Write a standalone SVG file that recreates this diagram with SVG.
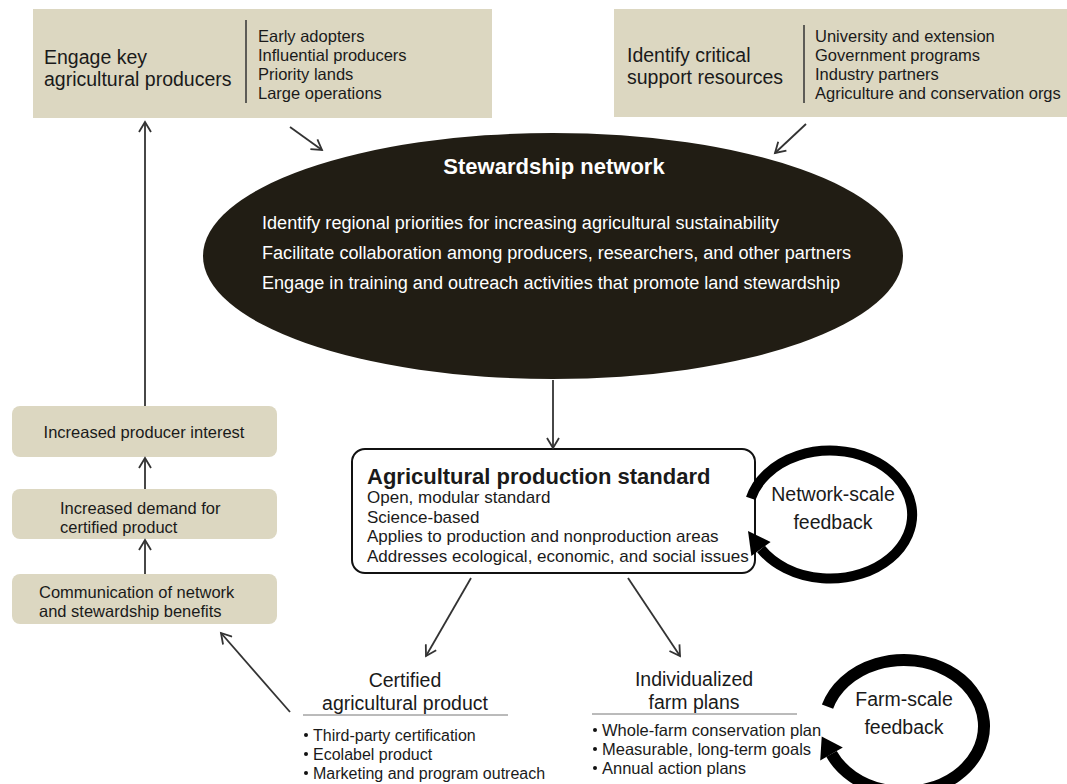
<svg xmlns="http://www.w3.org/2000/svg" width="1067" height="784" viewBox="0 0 1067 784">
<style>
text{font-family:"Liberation Sans",Arial,sans-serif;fill:#1a1a1a}
.box{fill:#dcd7c1}
.div{stroke:#333;stroke-width:1.5}
.lbl{font-size:19.5px}
.lst{font-size:16.5px}
.std{font-size:17px}
.side{font-size:16.5px}
.bul{font-size:16px}
.bul2{font-size:16.5px}
.hd{font-size:19.5px}
.w{fill:#fff}
.conn{stroke:#333;stroke-width:1.8;fill:none}
.ring{fill:none;stroke:#000}
.c{text-anchor:middle}
</style>
<defs>
<marker id="ah" markerUnits="userSpaceOnUse" markerWidth="14" markerHeight="14" refX="11" refY="7" orient="auto">
<path d="M1,1 L11,7 L1,13" fill="none" stroke="#333" stroke-width="1.8"/>
</marker>
</defs>
<rect width="1067" height="784" fill="#fff"/>

<g id="engage">
<rect class="box" x="33" y="9" width="459" height="109"/>
<line class="div" x1="246" y1="20" x2="246" y2="103"/>
<text class="lbl" x="44" y="64">Engage key</text>
<text class="lbl" x="44" y="86">agricultural producers</text>
<text class="lst" x="258" y="42">Early adopters</text>
<text class="lst" x="258" y="61">Influential producers</text>
<text class="lst" x="258" y="80">Priority lands</text>
<text class="lst" x="258" y="99">Large operations</text>
</g>

<g id="support">
<rect class="box" x="614" y="9" width="453" height="108"/>
<line class="div" x1="804" y1="25" x2="804" y2="103"/>
<text class="lbl" x="627" y="62">Identify critical</text>
<text class="lbl" x="627" y="84">support resources</text>
<text class="lst" x="815" y="42">University and extension</text>
<text class="lst" x="815" y="61">Government programs</text>
<text class="lst" x="815" y="80">Industry partners</text>
<text class="lst" x="815" y="99">Agriculture and conservation orgs</text>
</g>

<g id="network">
<ellipse cx="553" cy="256" rx="350" ry="123" fill="#211d14"/>
<text class="w c" x="554" y="174" font-size="22" font-weight="bold">Stewardship network</text>
<text class="w" x="262" y="229" font-size="18" textLength="517" lengthAdjust="spacingAndGlyphs">Identify regional priorities for increasing agricultural sustainability</text>
<text class="w" x="262" y="259" font-size="18" textLength="589" lengthAdjust="spacingAndGlyphs">Facilitate collaboration among producers, researchers, and other partners</text>
<text class="w" x="262" y="289" font-size="18" textLength="578" lengthAdjust="spacingAndGlyphs">Engage in training and outreach activities that promote land stewardship</text>
</g>

<g id="standard">
<rect x="352" y="449" width="403" height="124" rx="13" fill="#fff" stroke="#111" stroke-width="2"/>
<text x="367" y="484" font-size="22" font-weight="bold">Agricultural production standard</text>
<text class="std" x="367" y="503">Open, modular standard</text>
<text class="std" x="367" y="523">Science-based</text>
<text class="std" x="367" y="542">Applies to production and nonproduction areas</text>
<text class="std" x="367" y="562">Addresses ecological, economic, and social issues</text>
</g>

<g id="network-feedback">
<path class="ring" stroke-width="10" d="M750.8,498.4 A82,64 0 1 1 761.0,549.0"/>
<polygon points="748,531 770.6,541.9 751.4,556.1" fill="#000"/>
<text class="c hd" x="833" y="501">Network-scale</text>
<text class="c hd" x="833" y="529">feedback</text>
</g>

<g id="interest">
<rect class="box" x="12" y="406" width="265" height="51" rx="8"/>
<text class="side" x="144" y="438" text-anchor="middle">Increased producer interest</text>
</g>
<g id="demand">
<rect class="box" x="12" y="489" width="265" height="50" rx="8"/>
<text class="side" x="60" y="514">Increased demand for</text>
<text class="side" x="60" y="533">certified product</text>
</g>
<g id="communication">
<rect class="box" x="12" y="574" width="265" height="50" rx="8"/>
<text class="side" x="39" y="598">Communication of network</text>
<text class="side" x="39" y="617">and stewardship benefits</text>
</g>

<g id="certified">
<text class="c hd" x="405" y="687">Certified</text>
<text class="c hd" x="405" y="710">agricultural product</text>
<line x1="303" y1="715" x2="508" y2="715" stroke="#777" stroke-width="1"/>
<circle cx="306" cy="735" r="2" fill="#111"/>
<circle cx="306" cy="754" r="2" fill="#111"/>
<circle cx="306" cy="773" r="2" fill="#111"/>
<text class="bul" x="313" y="741">Third-party certification</text>
<text class="bul" x="313" y="760">Ecolabel product</text>
<text class="bul" x="313" y="779">Marketing and program outreach</text>
</g>

<g id="farmplans">
<text class="c hd" x="694" y="686">Individualized</text>
<text class="c hd" x="694" y="709">farm plans</text>
<line x1="592" y1="714" x2="797" y2="714" stroke="#777" stroke-width="1"/>
<circle cx="595" cy="730" r="2" fill="#111"/>
<circle cx="595" cy="749" r="2" fill="#111"/>
<circle cx="595" cy="768" r="2" fill="#111"/>
<text class="bul2" x="602" y="736">Whole-farm conservation plan</text>
<text class="bul2" x="602" y="755">Measurable, long-term goals</text>
<text class="bul2" x="602" y="774">Annual action plans</text>
</g>

<g id="farm-feedback">
<path class="ring" stroke-width="12" d="M827.5,706.7 A80,66 0 1 1 831.5,753.9"/>
<polygon points="821.7,736.6 842.8,747.6 820.2,760.4" fill="#000"/>
<text class="c hd" x="904" y="706">Farm-scale</text>
<text class="c hd" x="904" y="734">feedback</text>
</g>

<g id="connectors">
<line class="conn" x1="290" y1="127" x2="322" y2="150" marker-end="url(#ah)"/>
<line class="conn" x1="806" y1="124" x2="775" y2="153" marker-end="url(#ah)"/>
<line class="conn" x1="553" y1="380" x2="553" y2="448" marker-end="url(#ah)"/>
<line class="conn" x1="471" y1="578" x2="426" y2="656" marker-end="url(#ah)"/>
<line class="conn" x1="628" y1="578" x2="680" y2="656" marker-end="url(#ah)"/>
<line class="conn" x1="145" y1="406" x2="145" y2="122" marker-end="url(#ah)"/>
<line class="conn" x1="145" y1="489" x2="145" y2="458" marker-end="url(#ah)"/>
<line class="conn" x1="145" y1="574" x2="145" y2="540" marker-end="url(#ah)"/>
<line class="conn" x1="290" y1="712" x2="221" y2="633" marker-end="url(#ah)"/>
</g>
</svg>
